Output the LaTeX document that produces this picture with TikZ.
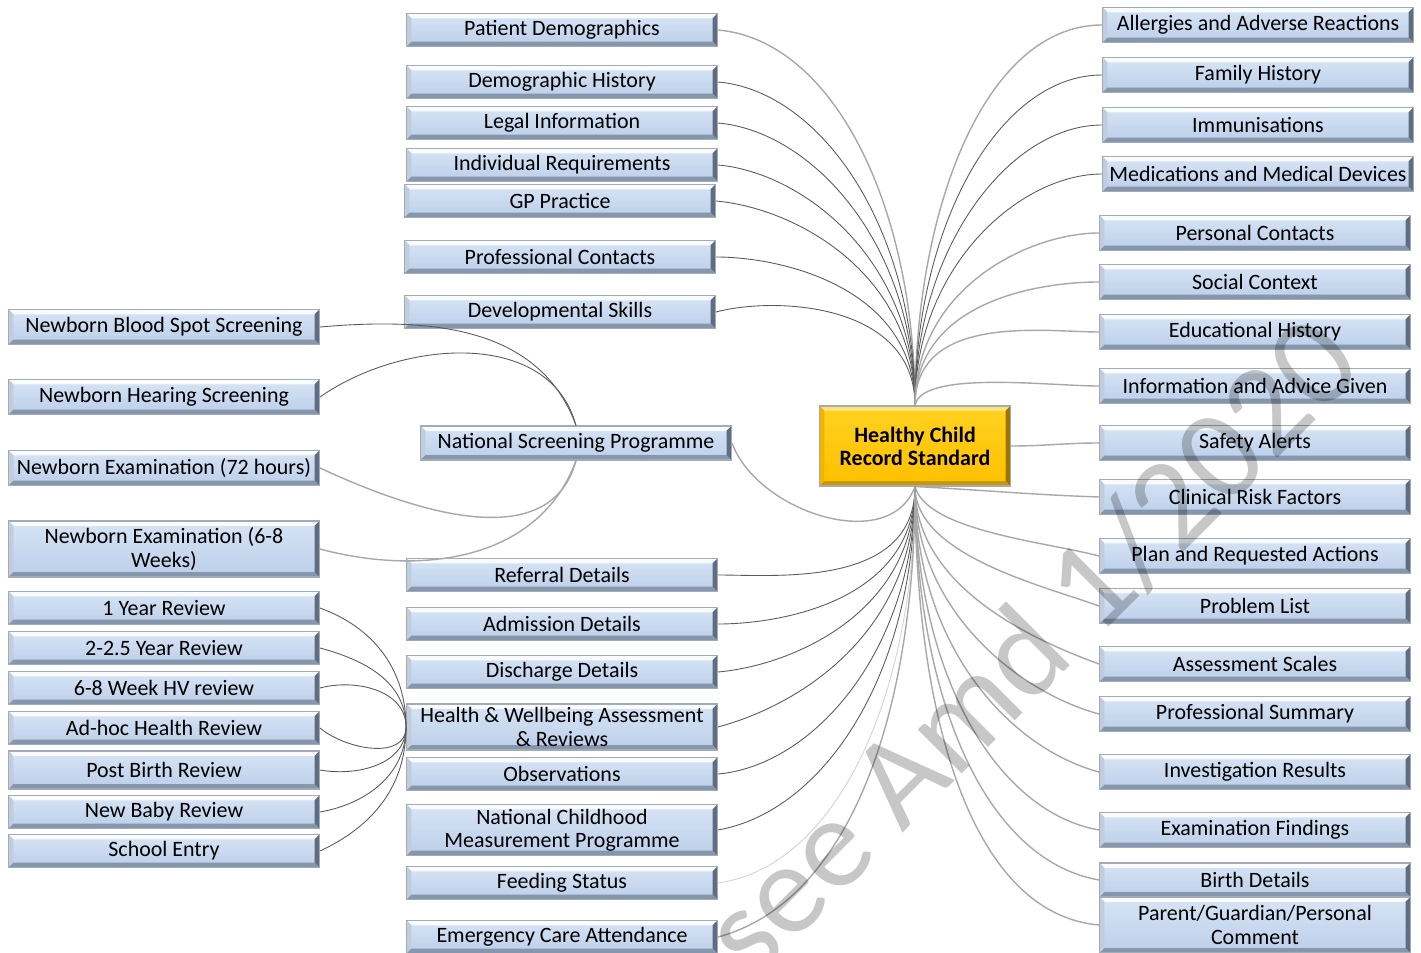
\documentclass[tikz,border=0pt]{standalone}
\usepackage{fontspec}
\setmainfont{Carlito}
\definecolor{boxtop}{HTML}{D7E4F5}
\definecolor{boxbot}{HTML}{BBCFE9}
\definecolor{boxedge}{HTML}{A3ABB6}
\definecolor{bevdark}{HTML}{5E6D82}
\definecolor{bevlow}{HTML}{8696AC}
\definecolor{hubtop}{HTML}{FFD21F}
\definecolor{hubbot}{HTML}{FFC000}
\definecolor{hubdark}{HTML}{9C7400}
\definecolor{hublow}{HTML}{C99800}
\definecolor{linkgray}{HTML}{A8A8A8}
\definecolor{linkdark}{HTML}{5A5A5A}
\newcommand{\bevw}{2.8pt}
% bevel: top, left, right, bottom colours
\newcommand{\bevel}[4]{%
  \fill[#1] (path picture bounding box.north west) -- (path picture bounding box.north east)
    -- ([shift={(-\bevw,-\bevw)}]path picture bounding box.north east)
    -- ([shift={(\bevw,-\bevw)}]path picture bounding box.north west) -- cycle;
  \fill[#2] (path picture bounding box.north west) -- (path picture bounding box.south west)
    -- ([shift={(\bevw,\bevw)}]path picture bounding box.south west)
    -- ([shift={(\bevw,-\bevw)}]path picture bounding box.north west) -- cycle;
  \fill[#3] (path picture bounding box.north east) -- (path picture bounding box.south east)
    -- ([shift={(-\bevw,\bevw)}]path picture bounding box.south east)
    -- ([shift={(-\bevw,-\bevw)}]path picture bounding box.north east) -- cycle;
  \fill[#4] (path picture bounding box.south west) -- (path picture bounding box.south east)
    -- ([shift={(-\bevw,\bevw)}]path picture bounding box.south east)
    -- ([shift={(\bevw,\bevw)}]path picture bounding box.south west) -- cycle;
}
\tikzset{
  topic/.style={rectangle, draw=boxedge, line width=0.6pt, top color=boxtop, bottom color=boxbot,
    minimum width=6.22cm, minimum height=0.66cm, inner sep=1pt, align=center,
    font=\fontsize{12.5}{13.2}\selectfont,
    path picture={\bevel{white!85!boxtop}{boxtop!70!bevlow}{bevdark}{bevlow}}},
  hub/.style={rectangle, draw=boxedge, line width=0.6pt, top color=hubtop, bottom color=hubbot,
    minimum width=3.82cm, minimum height=1.6cm, align=center,
    font=\fontsize{12.5}{13.2}\selectfont\bfseries,
    path picture={\bevel{hubtop!60!white}{hubbot!85!hubdark}{hubdark}{hublow}}},
  link/.style={draw=linkgray, line width=0.8pt},
  darklink/.style={draw=linkdark, line width=0.5pt},
}
\begin{document}
\begin{tikzpicture}[x=0.02cm, y=0.02cm]
  \useasboundingbox (0,0) rectangle (1421,-953);
  \node[hub] (hcr) at (915,-446) {Healthy Child\\Record Standard};
  % middle column
  \node[topic] (pd) at (562,-30) {Patient Demographics};
  \node[topic] (dh) at (562,-82) {Demographic History};
  \node[topic] (li) at (562,-123) {Legal Information};
  \node[topic] (ir) at (562,-165) {Individual Requirements};
  \node[topic] (gp) at (560,-201) {GP Practice};
  \node[topic] (pc) at (560,-257) {Professional Contacts};
  \node[topic] (ds) at (560,-312) {Developmental Skills};
  \node[topic, minimum height=0.68cm] (nsp) at (576,-443) {National Screening Programme};
  \node[topic] (ref) at (562,-575) {Referral Details};
  \node[topic] (adm) at (562,-624) {Admission Details};
  \node[topic] (dis) at (562,-672) {Discharge Details};
  \node[topic, minimum height=0.92cm] (hw) at (562,-727) {Health \& Wellbeing Assessment\\\& Reviews};
  \node[topic] (obs) at (562,-774) {Observations};
  \node[topic, minimum height=1.02cm] (ncmp) at (562,-830) {National Childhood\\Measurement Programme};
  \node[topic] (feed) at (562,-883) {Feeding Status};
  \node[topic] (eca) at (562,-937) {Emergency Care Attendance};
  % left column
  \node[topic, minimum height=0.7cm] (nbs) at (164,-327) {Newborn Blood Spot Screening};
  \node[topic, minimum height=0.7cm] (nhs) at (164,-397) {Newborn Hearing Screening};
  \node[topic, minimum height=0.7cm] (ne72) at (164,-468) {Newborn Examination (72 hours)};
  \node[topic, minimum height=1.12cm] (ne68) at (164,-549) {Newborn Examination (6-8\\Weeks)};
  \node[topic] (y1) at (164,-608) {1 Year Review};
  \node[topic] (y2) at (164,-648) {2-2.5 Year Review};
  \node[topic] (w68) at (164,-688) {6-8 Week HV review};
  \node[topic] (adhoc) at (164,-728) {Ad-hoc Health Review};
  \node[topic, minimum height=0.76cm] (pbr) at (164,-770) {Post Birth Review};
  \node[topic] (nbr) at (164,-812) {New Baby Review};
  \node[topic] (sch) at (164,-851) {School Entry};
  % right column
  \node[topic, minimum height=0.7cm] (all) at (1258,-25) {Allergies and Adverse Reactions};
  \node[topic, minimum height=0.7cm] (fam) at (1258,-75) {Family History};
  \node[topic, minimum height=0.7cm] (imm) at (1258,-125) {Immunisations};
  \node[topic, minimum height=0.7cm] (med) at (1258,-174) {Medications and Medical Devices};
  \node[topic, minimum height=0.7cm] (per) at (1255,-233) {Personal Contacts};
  \node[topic, minimum height=0.7cm] (soc) at (1255,-282) {Social Context};
  \node[topic, minimum height=0.7cm] (edu) at (1255,-332) {Educational History};
  \node[topic, minimum height=0.7cm] (info) at (1255,-386) {Information and Advice Given};
  \node[topic, minimum height=0.7cm] (saf) at (1255,-443) {Safety Alerts};
  \node[topic, minimum height=0.7cm] (crf) at (1255,-497) {Clinical Risk Factors};
  \node[topic, minimum height=0.7cm] (plan) at (1255,-556) {Plan and Requested Actions};
  \node[topic, minimum height=0.7cm] (prob) at (1255,-606) {Problem List};
  \node[topic, minimum height=0.7cm] (ass) at (1255,-664) {Assessment Scales};
  \node[topic, minimum height=0.7cm] (prof) at (1255,-714) {Professional Summary};
  \node[topic, minimum height=0.7cm] (inv) at (1255,-772) {Investigation Results};
  \node[topic, minimum height=0.7cm] (exam) at (1255,-830) {Examination Findings};
  \node[topic, minimum height=0.68cm] (birth) at (1255,-880) {Birth Details};
  \node[topic, minimum height=1.12cm] (parent) at (1255,-925) {Parent/Guardian/Personal\\Comment};

  % upper topics into the hub
  \draw[link] (pd.east) to[out=-5,in=90,out looseness=0.7,in looseness=1.2] (hcr.north);
  \draw[darklink] (dh.east) to[out=-5,in=90,out looseness=0.7,in looseness=1.2] (hcr.north);
  \draw[darklink] (li.east) to[out=-5,in=90,out looseness=0.7,in looseness=1.2] (hcr.north);
  \draw[darklink] (ir.east) to[out=-5,in=90,out looseness=0.7,in looseness=1.2] (hcr.north);
  \draw[darklink] (gp.east) to[out=-5,in=90,out looseness=0.7,in looseness=1.2] (hcr.north);
  \draw[darklink] (pc.east) to[out=0,in=90,out looseness=0.7,in looseness=1.2] (hcr.north);
  \draw[darklink] (ds.east) to[out=15,in=90,out looseness=0.7,in looseness=1.2] (hcr.north);
  \draw[link] (hcr.north) to[out=90,in=180,out looseness=1.2,in looseness=0.7] (all.west);
  \draw[darklink] (hcr.north) to[out=90,in=180,out looseness=1.2,in looseness=0.7] (fam.west);
  \draw[darklink] (hcr.north) to[out=90,in=180,out looseness=1.2,in looseness=0.7] (imm.west);
  \draw[darklink] (hcr.north) to[out=90,in=180,out looseness=1.2,in looseness=0.7] (med.west);
  \draw[link] (hcr.north) to[out=90,in=180,out looseness=1.2,in looseness=0.7] (per.west);
  \draw[link] (hcr.north) to[out=90,in=180,out looseness=1.2,in looseness=0.7] (soc.west);
  \draw[link] (hcr.north) to[out=90,in=180,out looseness=1.2,in looseness=0.7] (edu.west);
  \draw[link] (hcr.north) to[out=80,in=180,out looseness=0.5,in looseness=0.7] (info.west);
  \draw[link] (hcr.east) to[out=0,in=180] (saf.west);
  \draw[link] (hcr.south) to[out=-3,in=178] (crf.west);
  % lower topics out of the hub
  \draw[link] (hcr.south) to[out=-75,in=165,out looseness=0.6,in looseness=0.7] (plan.west);
  \draw[link] (hcr.south) to[out=-90,in=160,out looseness=0.8,in looseness=0.7] (prob.west);
  \draw[link] (hcr.south) to[out=-90,in=160,out looseness=1,in looseness=0.7] (ass.west);
  \draw[link] (hcr.south) to[out=-90,in=165,out looseness=1.1,in looseness=0.7] (prof.west);
  \draw[link] (hcr.south) to[out=-90,in=165,out looseness=1.2,in looseness=0.7] (inv.west);
  \draw[link] (hcr.south) to[out=-90,in=170,out looseness=1.2,in looseness=0.7] (exam.west);
  \draw[link] (hcr.south) to[out=-90,in=170,out looseness=1.2,in looseness=0.7] (birth.west);
  \draw[link] (hcr.south) to[out=-90,in=175,out looseness=1.2,in looseness=0.7] (parent.west);
  \draw[darklink] (ref.east) to[out=0,in=-90,out looseness=0.7,in looseness=1.2] (hcr.south);
  \draw[darklink] (adm.east) to[out=0,in=-90,out looseness=0.7,in looseness=1.2] (hcr.south);
  \draw[darklink] (dis.east) to[out=5,in=-90,out looseness=0.7,in looseness=1.2] (hcr.south);
  \draw[darklink] (hw.east) to[out=15,in=-90,out looseness=0.7,in looseness=1.2] (hcr.south);
  \draw[darklink] (obs.east) to[out=5,in=-90,out looseness=0.7,in looseness=1.2] (hcr.south);
  \draw[darklink] (ncmp.east) to[out=10,in=-90,out looseness=0.7,in looseness=1.2] (hcr.south);
  \draw[draw=linkgray!50, line width=0.5pt] (feed.east) to[out=8,in=-90,out looseness=0.7,in looseness=1.2] (hcr.south);
  \draw[link] (eca.east) to[out=15,in=-90,out looseness=0.7,in looseness=1.2] (hcr.south);
  \draw[link] (nsp.east) to[out=-70,in=-110] (hcr.south);
  % screening programme
  \draw[darklink] (nbs.east) to[out=5,in=110] (nsp.north);
  \draw[darklink] (nhs.east) to[out=35,in=105] (nsp.north);
  \draw[link] (ne72.east) to[out=-25,in=-105] (nsp.south);
  \draw[link] (ne68.east) to[out=-15,in=-110] (nsp.south);
  % reviews
  \draw[darklink] (y1.east) to[out=-20,in=90] (hw.west);
  \draw[darklink] (y2.east) to[out=-15,in=90] (hw.west);
  \draw[darklink] (w68.east) to[out=15,in=90] (hw.west);
  \draw[darklink] (adhoc.east) to[out=-40,in=-90] (hw.west);
  \draw[darklink] (pbr.east) to[out=-10,in=-90] (hw.west);
  \draw[darklink] (nbr.east) to[out=10,in=-90] (hw.west);
  \draw[darklink] (sch.east) to[out=25,in=-90] (hw.west);

  % watermark
  \begin{scope}
    \clip (0,0) rectangle (1421,-953);
    \node[rotate=45, text=black, text opacity=0.22, font=\fontsize{74}{74}\selectfont] (wm) at (1030,-646) {see Amd 1/2020};
  \end{scope}
\end{tikzpicture}
\end{document}
